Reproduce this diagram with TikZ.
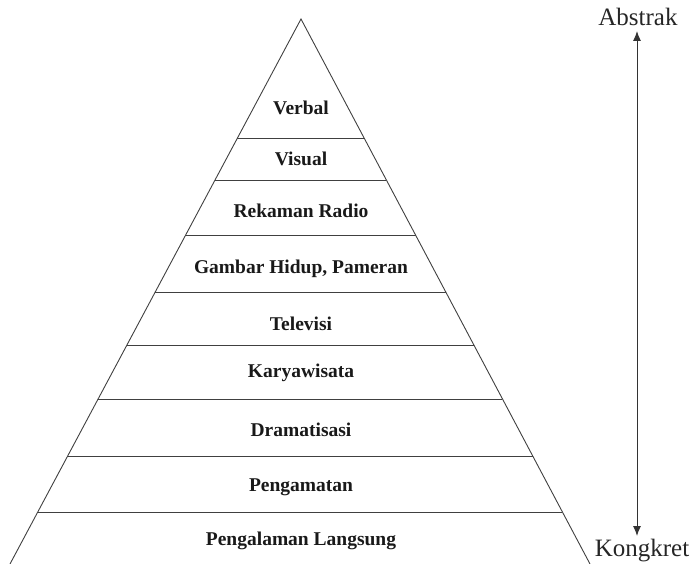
\documentclass[tikz,border=0pt]{standalone}
\usepackage{fontspec}
\setmainfont{Liberation Serif}
\usetikzlibrary{calc,arrows.meta}
\tikzset{
  edge/.style={draw=black!75, line width=0.9pt},
  level/.style={font=\fontsize{19.5}{22}\selectfont\bfseries, text=black!90, inner sep=0pt},
  pole/.style={font=\fontsize{25}{28}\selectfont, text=black!85, inner sep=0pt},
  axis/.style={draw=black!80, line width=1pt, {Latex[length=10pt,width=8pt]}-{Latex[length=10pt,width=8pt]}}
}
\begin{document}
\begin{tikzpicture}[x=1pt,y=-1pt]
\useasboundingbox (0,0) rectangle (693,564);
\coordinate (A) at (301,19);
\coordinate (BL) at (10,564);
\coordinate (BR) at (590,564);
\draw[edge] (BL) -- (A) -- (BR);
\foreach \f [count=\i] in {0.2183,0.2954,0.3963,0.5009,0.5982,0.6972,0.8018,0.9046}{
  \coordinate (L\i) at ($(A)!\f!(BL)$);
  \coordinate (R\i) at ($(A)!\f!(BR)$);
  \draw[edge] (L\i) -- (R\i);
}
\node[level] (n1) at (301,108) {Verbal};
\node[level] (n2) at (301,159) {Visual};
\node[level] (n3) at (301,211) {Rekaman Radio};
\node[level] (n4) at (301,269) {Gambar Hidup, Pameran};
\node[level] (n5) at (301,324) {Televisi};
\node[level] (n6) at (301,373) {Karyawisata};
\node[level] (n7) at (301,430) {Dramatisasi};
\node[level] (n8) at (301,487) {Pengamatan};
\node[level] (n9) at (301,541) {Pengalaman Langsung};
\node[pole] (abs) at (638,17) {Abstrak};
\node[pole] (kon) at (642,551) {Kongkret};
\coordinate (top) at (637,31);
\coordinate (bot) at (637,536);
\draw[axis] (top) -- (bot);
\end{tikzpicture}
\end{document}
